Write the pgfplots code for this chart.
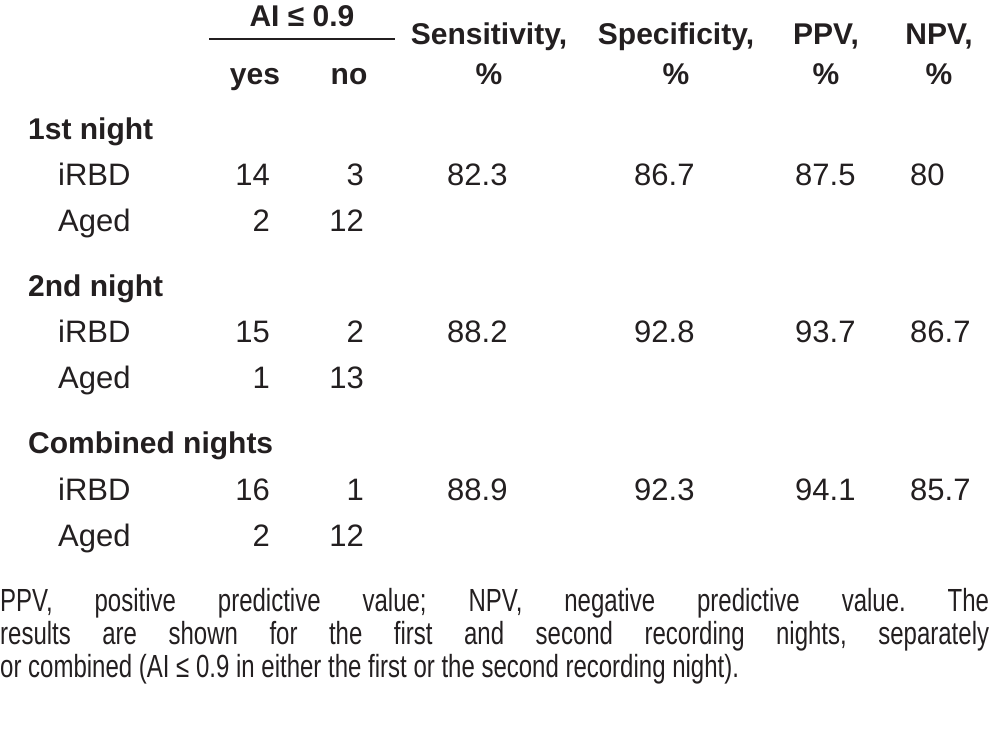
\documentclass[border=0pt]{standalone}
\usepackage{fontspec}
\setmainfont{Liberation Sans}
\newfontfamily\capfont[FakeStretch=0.75]{Liberation Sans}
\usepackage{pgfplots}
\usepackage{pgfplotstable}
\pgfplotsset{compat=1.18}
\definecolor{ink}{RGB}{35,31,32}

% positions are in pixels of the original, y counted from the top
\pgfplotstableread[col sep=semicolon]{
x;y;label
302;26;AI ≤ 0.9
489;44;Sensitivity,
676;44;Specificity,
826;44;PPV,
939;44;NPV,
255;84;yes
349;84;no
489;84;\%
676;84;\%
826;84;\%
939;84;\%
}\headers

\pgfplotstableread[col sep=semicolon]{
x;y;label
28;139;1st night
28;296;2nd night
28;453;Combined nights
}\groups

\pgfplotstableread[col sep=semicolon]{
x;y;label
58;185;iRBD
58;231;Aged
58;342;iRBD
58;388;Aged
58;500;iRBD
58;546;Aged
}\rows

% AI <= 0.9: yes / no counts (right aligned)
\pgfplotstableread[col sep=semicolon]{
x;y;label
270;185;14
364;185;3
270;231;2
364;231;12
270;342;15
364;342;2
270;388;1
364;388;13
270;500;16
364;500;1
270;546;2
364;546;12
}\counts

% sensitivity, specificity, PPV, NPV
\pgfplotstableread[col sep=semicolon]{
x;y;label
447;185;82.3
634;185;86.7
795;185;87.5
910;185;80
447;342;88.2
634;342;92.8
795;342;93.7
910;342;86.7
447;500;88.9
634;500;92.3
795;500;94.1
910;500;85.7
}\metrics

\begin{document}
\begin{tikzpicture}
\begin{axis}[
    scale only axis,
    width=989pt,
    height=729pt,
    xmin=0, xmax=989,
    ymin=0, ymax=729,
    y dir=reverse,
    hide axis,
    clip=false,
    every node near coord/.append style={inner sep=0pt, text=ink},
]

\addplot[draw=none, mark=none, nodes near coords, point meta=explicit symbolic,
    nodes near coords align={anchor=base},
    every node near coord/.append style={font=\fontsize{30}{36}\selectfont\bfseries}]
    table[x=x, y=y, meta=label] {\headers};

\addplot[ink, line width=1.3pt] coordinates {(209,39) (395,39)};

\addplot[draw=none, mark=none, nodes near coords, point meta=explicit symbolic,
    nodes near coords align={anchor=base west},
    every node near coord/.append style={font=\fontsize{30}{36}\selectfont\bfseries}]
    table[x=x, y=y, meta=label] {\groups};

\addplot[draw=none, mark=none, nodes near coords, point meta=explicit symbolic,
    nodes near coords align={anchor=base west},
    every node near coord/.append style={font=\fontsize{31}{36}\selectfont}]
    table[x=x, y=y, meta=label] {\rows};

\addplot[draw=none, mark=none, nodes near coords, point meta=explicit symbolic,
    nodes near coords align={anchor=base east},
    every node near coord/.append style={font=\fontsize{31}{36}\selectfont}]
    table[x=x, y=y, meta=label] {\counts};

\addplot[draw=none, mark=none, nodes near coords, point meta=explicit symbolic,
    nodes near coords align={anchor=base west},
    every node near coord/.append style={font=\fontsize{31}{36}\selectfont}]
    table[x=x, y=y, meta=label] {\metrics};

\node[anchor=base west, inner sep=0pt, text width=989pt, align=justify, text=ink,
      font=\fontsize{32}{33}\selectfont\capfont]
    at (axis cs:0,611)
    {\frenchspacing\tolerance=10000\hbadness=10000\noindent
     PPV, positive predictive value; NPV, negative predictive value. The\linebreak
     results are shown for the first and second recording nights, separately\linebreak
     or combined (AI ≤ 0.9 in either the first or the second recording night).};

\end{axis}
\pgfresetboundingbox
\useasboundingbox (current axis.south west) rectangle (current axis.north east);
\end{tikzpicture}
\end{document}
